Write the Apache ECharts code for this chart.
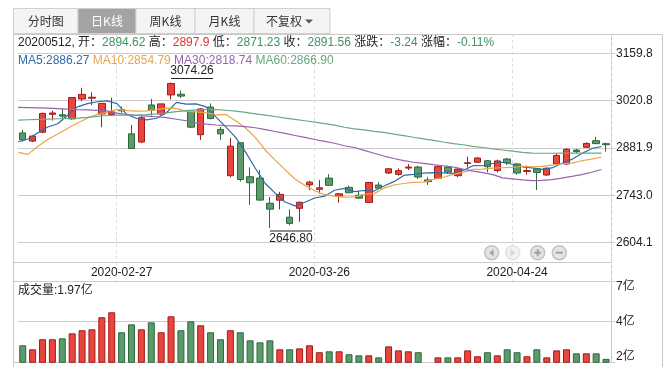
<!DOCTYPE html>
<html><head><meta charset="utf-8">
<script src="https://cdn.jsdelivr.net/npm/echarts@6/dist/echarts.min.js"></script>
<style>html,body{margin:0;padding:0;background:#fff}#c{width:672px;height:373px}</style>
</head><body><div id="c"></div>
<script>
// ---------------- data ----------------
const dates = ['2020-02-13','2020-02-14','2020-02-17','2020-02-18','2020-02-19','2020-02-20','2020-02-21','2020-02-24','2020-02-25','2020-02-26',
'2020-02-27','2020-02-28','2020-03-02','2020-03-03','2020-03-04','2020-03-05','2020-03-06','2020-03-09','2020-03-10','2020-03-11',
'2020-03-12','2020-03-13','2020-03-16','2020-03-17','2020-03-18','2020-03-19','2020-03-20','2020-03-23','2020-03-24','2020-03-25',
'2020-03-26','2020-03-27','2020-03-30','2020-03-31','2020-04-01','2020-04-02','2020-04-03','2020-04-07','2020-04-08','2020-04-09',
'2020-04-10','2020-04-13','2020-04-14','2020-04-15','2020-04-16','2020-04-17','2020-04-20','2020-04-21','2020-04-22','2020-04-23',
'2020-04-24','2020-04-27','2020-04-28','2020-04-29','2020-04-30','2020-05-06','2020-05-07','2020-05-08','2020-05-11','2020-05-12'];
const openP  = [2926.4,2902.4,2928.5,2981.0,2979.5,2967.5,3026.0,3028.5,2982.0,2980.0,
2995.0,2923.5,2899.5,3008.5,2982.0,3038.0,3040.0,2990.0,2921.0,3002.5,
2936.5,2800.5,2897.5,2797.5,2793.5,2719.5,2728.5,2678.5,2704.5,2773.5,
2760.5,2793.5,2740.0,2766.0,2743.0,2722.0,2773.0,2808.5,2804.5,2823.0,
2826.0,2788.0,2793.0,2826.0,2800.5,2836.5,2840.0,2844.5,2815.5,2849.5,
2835.0,2813.0,2820.5,2802.5,2835.0,2835.0,2876.0,2884.0,2903.5,2894.62];
const highP  = [2935.0,2919.5,2986.0,2991.5,2998.0,3032.0,3059.0,3045.5,3014.5,3029.5,
3004.0,2950.0,2977.5,3026.5,3012.0,3074.26,3051.0,2992.5,2999.5,3013.0,
2943.5,2911.5,2898.5,2825.0,2817.0,2738.0,2753.0,2701.5,2724.5,2785.5,
2787.5,2805.0,2749.5,2771.5,2756.0,2782.5,2781.5,2823.0,2822.0,2835.0,
2830.0,2796.0,2830.0,2830.0,2825.0,2856.5,2854.5,2846.5,2847.5,2852.5,
2838.0,2830.0,2822.5,2825.0,2864.5,2881.5,2879.0,2898.5,2915.0,2897.9];
const lowP   = [2900.5,2899.0,2925.5,2962.5,2962.5,2965.5,3019.5,3008.5,2943.0,2977.0,
2986.0,2879.0,2896.5,2977.5,2978.5,3025.0,3029.0,2940.5,2906.0,2966.0,
2906.0,2795.5,2783.5,2714.5,2726.0,2646.80,2701.5,2655.0,2665.0,2758.0,
2748.0,2771.0,2721.5,2749.0,2733.0,2720.0,2762.0,2805.5,2800.5,2817.5,
2791.0,2773.5,2791.0,2805.5,2796.0,2825.0,2838.0,2810.5,2810.5,2832.0,
2803.5,2803.5,2758.5,2800.5,2833.0,2832.0,2866.0,2882.0,2893.5,2871.23];
const closeP = [2906.07,2917.01,2983.62,2984.97,2975.40,3030.15,3039.67,3031.23,3013.05,2987.93,
2991.33,2880.30,2970.93,2992.90,3011.67,3071.68,3034.51,2943.29,2996.76,2968.52,
2923.49,2887.43,2789.25,2779.64,2728.76,2702.13,2745.62,2660.17,2722.44,2781.59,
2764.91,2772.20,2747.21,2750.30,2734.52,2780.64,2763.99,2820.76,2815.37,2825.90,
2796.63,2783.05,2827.28,2811.17,2819.94,2838.49,2852.55,2827.01,2843.98,2838.50,
2808.53,2815.49,2810.02,2822.44,2860.08,2878.14,2871.52,2895.34,2894.80,2891.56];
// volume in 亿
const volume = [2.85,2.59,3.24,3.24,3.30,3.62,3.82,3.88,4.66,4.98,
3.69,4.20,3.88,4.33,3.69,4.72,3.82,4.40,4.14,3.69,
3.24,3.82,3.69,3.17,3.04,3.17,2.59,2.59,2.65,2.85,
2.40,2.46,2.46,2.27,2.20,2.20,2.07,2.78,2.52,2.46,
2.40,1.76,2.07,2.07,2.07,2.52,2.14,2.40,2.20,2.59,
2.40,2.14,2.59,2.07,2.52,2.59,2.33,2.33,2.33,1.97];
const ma5 = [2900.22,2908.43,2927.05,2943.71,2953.41,2978.23,3002.76,3012.28,3017.90,3020.41,
3012.64,2980.77,2968.71,2964.68,2969.43,2985.50,3016.34,3010.81,3011.58,3002.95,
2973.31,2943.90,2913.09,2869.67,2821.71,2777.44,2749.08,2723.26,2711.82,2722.39,
2734.95,2740.26,2757.67,2763.24,2753.83,2756.97,2755.33,2770.04,2783.06,2801.33,
2804.53,2808.34,2809.65,2808.81,2807.61,2815.99,2829.89,2829.83,2836.39,2840.11,
2834.11,2826.70,2823.30,2818.99,2823.31,2837.23,2848.44,2865.50,2879.98,2886.27];
const ma10 = [2869.21,2863.26,2886.96,2907.13,2922.86,2939.22,2955.60,2969.67,2980.81,2986.91,
2995.44,2991.77,2990.50,2991.29,2994.92,2999.07,2998.55,2989.76,2988.13,2986.19,
2979.41,2980.12,2961.95,2940.62,2912.33,2875.38,2846.49,2818.18,2790.75,2772.05,
2756.19,2744.67,2740.47,2737.53,2738.11,2745.96,2747.80,2763.86,2773.15,2777.58,
2780.75,2781.84,2789.84,2795.93,2804.47,2810.26,2819.11,2819.74,2822.60,2823.86,
2825.05,2828.29,2826.57,2827.70,2831.71,2835.67,2837.57,2844.40,2849.49,2854.79];
const ma30 = [3001.2,3000.5,2999.8,2999.1,2997.7,2996.3,2994.8,2993.8,2992.7,2991.3,
2984.7,2980.2,2977.5,2975.7,2973.8,2971.0,2966.5,2962.0,2956.0,2952.0,
2949.5,2948.0,2947.0,2945.0,2941.5,2936.0,2930.5,2924.7,2918.8,2913.0,
2907.0,2901.5,2896.0,2888.5,2883.5,2875.0,2866.5,2858.3,2851.0,2844.7,
2840.0,2836.5,2833.0,2829.7,2826.0,2820.0,2814.2,2809.3,2803.5,2794.0,
2791.0,2788.0,2786.3,2787.0,2788.7,2793.4,2798.5,2803.8,2810.7,2818.74];
const ma60 = [2964.0,2965.0,2966.0,2967.0,2968.0,2969.0,2970.0,2972.0,2975.0,2977.5,
2978.7,2978.8,2979.2,2979.8,2982.5,2985.5,2989.0,2992.0,2994.0,2994.5,
2994.5,2993.0,2990.5,2986.5,2982.5,2978.5,2974.5,2970.0,2966.0,2962.0,
2958.0,2953.5,2949.0,2943.0,2938.0,2935.0,2931.0,2928.0,2923.0,2918.5,
2913.5,2909.0,2904.5,2899.5,2895.0,2891.5,2887.0,2883.5,2879.5,2876.0,
2872.5,2869.0,2867.0,2866.5,2866.5,2866.8,2867.0,2867.0,2867.0,2866.90];
const xTickLabels = ['2020-02-27','2020-03-26','2020-04-24'];
const priceTicks = [2604.1, 3159.8];   // axis min / max labels
const volTicks = [1.75, 7.0];          // volume axis min / max (亿)
const tabNames = ['分时图','日K线','周K线','月K线','不复权'];

// ---------------- styles ----------------
const FONT = '"Liberation Sans", "Noto Sans CJK SC", sans-serif';
const UP = '#e8453c', UPB = '#a31b1b', DN = '#5a9a6b', DNB = '#2c6a3b';
const GREENT = '#3f9160', REDT = '#e2302f';
const C5 = '#2f6ba6', C10 = '#eba54a', C30 = '#9763af', C60 = '#68a982';
const GRID = '#cccccc';

const n = dates.length, L = n - 1;
const prev = closeP[L-1];
const chg = closeP[L] - prev;
const pct = chg / prev * 100;
const col = v => (v >= prev ? 'r' : 'g');
const dstr = dates[L].replace(/-/g, '');
const infoText = `{k|${dstr}, 开：}{${col(openP[L])}|${openP[L].toFixed(2)}} {k|高：}{${col(highP[L])}|${highP[L]}} {k|低：}{${col(lowP[L])}|${lowP[L].toFixed(2)}} {k|收：}{${col(closeP[L])}|${closeP[L].toFixed(2)}} {k|涨跌：}{${chg>=0?'r':'g'}|${chg.toFixed(2)}} {k|涨幅：}{${chg>=0?'r':'g'}|${pct.toFixed(2)}%}`;
const maText = `{a|MA5:${ma5[L].toFixed(2)}} {b|MA10:${ma10[L].toFixed(2)}} {c|MA30:${ma30[L].toFixed(2)}} {d|MA60:${ma60[L].toFixed(2)}}`;

let hiIdx = 0, loIdx = 0;
for (let i = 0; i < n; i++) { if (highP[i] > highP[hiIdx]) hiIdx = i; if (lowP[i] < lowP[loIdx]) loIdx = i; }

const kData = dates.map((d, i) => [openP[i], closeP[i], lowP[i], highP[i]]);
const vData = volume.map((v, i) => ({
  value: v,
  itemStyle: closeP[i] >= openP[i] ? {color: UP, borderColor: UPB} : {color: DN, borderColor: DNB}
}));

// ---------------- layout ----------------
const GL = 17.8, GR = 61, SHIFT = 4.6;
const mainTop = 53.5, mainH = 189;

// graphic chrome
const graphic = [];
const tabX = [13.5, 78, 136, 195, 254, 330];
tabNames.forEach((t, i) => {
  const sel = i === 1;
  graphic.push({type:'rect', shape:{x:tabX[i], y:8.5, width:tabX[i+1]-tabX[i], height:25},
    style:{fill: sel ? '#a3a3a3' : '#f4f4f4', stroke:'#cfcfcf', lineWidth:1}, z:1});
  const cx = i === 4 ? 284 : (tabX[i] + tabX[i+1]) / 2;
  graphic.push({type:'text', x:cx, y:21.5, z:2,
    style:{text:t, fill: sel ? '#ffffff' : '#333333', font:'12px "Noto Sans CJK SC", sans-serif',
      align:'center', verticalAlign:'middle', textAlign:'center', textVerticalAlign:'middle'}});
});
graphic.push({type:'polygon', shape:{points:[[305,19.5],[313,19.5],[309,23.5]]}, style:{fill:'#555'}, z:2});

const ln = (x1,y1,x2,y2) => ({type:'line', shape:{x1,y1,x2,y2}, style:{stroke:'#c8c8c8', lineWidth:1}, z:0, silent:true});
graphic.push(ln(13.5,34.5,662.5,34.5));
graphic.push(ln(13.5,34.5,13.5,367));
graphic.push(ln(662.5,34.5,662.5,367));
graphic.push(ln(611.5,34.5,611.5,362.5));
graphic.push(ln(13.5,262.5,611.5,262.5));
graphic.push(ln(13.5,281.5,615.5,281.5));
graphic.push(ln(13.5,362.5,611.5,362.5));

// zoom buttons
const btnX = [491.7, 512.7, 537.7, 559.3], by = 252.7;
btnX.forEach((bx, i) => {
  const dis = i === 1;
  graphic.push({type:'circle', shape:{cx:bx, cy:by, r:7}, style:{fill: dis?'#f1f1f1':'#e4e4e4', stroke: dis?'#e2e2e2':'#c4c4c4', lineWidth:1.5}, z:3});
  const sc = dis ? '#d6d6d6' : '#a2a2a2';
  if (i === 0) graphic.push({type:'polygon', shape:{points:[[bx+2,by-3.5],[bx+2,by+3.5],[bx-2.5,by]]}, style:{fill:sc}, z:4});
  if (i === 1) graphic.push({type:'polygon', shape:{points:[[bx-2,by-3.5],[bx-2,by+3.5],[bx+2.5,by]]}, style:{fill:sc}, z:4});
  if (i >= 2) graphic.push({type:'line', shape:{x1:bx-3.5,y1:by,x2:bx+3.5,y2:by}, style:{stroke:sc, lineWidth:2}, z:4});
  if (i === 2) graphic.push({type:'line', shape:{x1:bx,y1:by-3.5,x2:bx,y2:by+3.5}, style:{stroke:sc, lineWidth:2}, z:4});
});

const chart = echarts.init(document.getElementById('c'), null, {renderer:'canvas'});
const labelFmt = v => (Math.floor(v * 10 + 1e-6) / 10).toFixed(1);

chart.setOption({
  animation: false,
  backgroundColor: '#fff',
  textStyle: {fontFamily: FONT},
  title: [
    {left: 18, top: 37, padding: 0, text: infoText,
      textStyle: {fontSize: 12, fontWeight: 'normal', fontFamily: FONT,
        rich: {k:{color:'#222', fontSize:12, fontFamily: FONT}, g:{color:GREENT, fontSize:12, fontFamily: FONT}, r:{color:REDT, fontSize:12, fontFamily: FONT}}}},
    {left: 18, top: 55, padding: 0, text: maText,
      textStyle: {fontSize: 12, fontWeight: 'normal', fontFamily: FONT,
        rich: {a:{color:C5, fontSize:12}, b:{color:C10, fontSize:12}, c:{color:C30, fontSize:12}, d:{color:C60, fontSize:12}}}},
    {left: 18, top: 285, padding: 0, text: `成交量:${volume[L].toFixed(2)}亿`,
      textStyle: {fontSize: 12, fontWeight: 'normal', color: '#222', fontFamily: FONT}}
  ],
  graphic: graphic,
  grid: [
    {left: GL, right: GR, top: mainTop, height: mainH},
    {left: GL - SHIFT, right: GR + SHIFT, top: mainTop, height: mainH},
    {left: GL, right: GR, top: 34, height: 247},
    {left: GL, right: GR, top: 281, height: 81.3}
  ],
  xAxis: [
    {type:'category', gridIndex:0, data:dates, boundaryGap:true, show:false},
    {type:'category', gridIndex:1, data:dates, boundaryGap:true, show:false},
    {type:'category', gridIndex:2, data:dates, boundaryGap:true,
      axisLine:{show:false}, axisTick:{show:false},
      axisLabel:{inside:true, margin:2, color:'#222', fontSize:12, fontFamily:FONT,
        interval:(idx, val) => xTickLabels.includes(val)},
      splitLine:{show:true, interval:(idx, val) => xTickLabels.includes(val),
        lineStyle:{color:'#dcdcdc', type:[3,3], width:1}}},
    {type:'category', gridIndex:3, data:dates, boundaryGap:true,
      axisLine:{show:false}, axisTick:{show:false}, axisLabel:{show:false}, splitLine:{show:false}}
  ],
  yAxis: [
    {type:'value', gridIndex:0, position:'right', min:priceTicks[0], max:priceTicks[1],
      interval:(priceTicks[1]-priceTicks[0])/4, scale:true,
      axisLine:{show:false}, axisTick:{show:true, length:4, lineStyle:{color:GRID}},
      axisLabel:{margin:5, color:'#222', fontSize:12, fontFamily:FONT, formatter:labelFmt},
      splitLine:{show:true, lineStyle:{color:GRID, width:1}}},
    {type:'value', gridIndex:1, min:priceTicks[0], max:priceTicks[1], scale:true, show:false},
    {type:'value', gridIndex:2, show:false},
    {type:'value', gridIndex:3, position:'right', min:volTicks[0], max:volTicks[1],
      interval:(volTicks[1]-volTicks[0])/2, scale:true,
      axisLine:{show:false}, axisTick:{show:true, length:4, lineStyle:{color:GRID}},
      axisLabel:{margin:5, color:'#222', fontSize:12, fontFamily:FONT,
        verticalAlignMinLabel:'bottom', verticalAlignMaxLabel:'top',
        formatter: v => Math.round(v) + '亿'},
      splitLine:{show:true, lineStyle:{color:GRID, width:1}}}
  ],
  series: [
    {type:'candlestick', name:'K', xAxisIndex:0, yAxisIndex:0, data:kData, barWidth:7,
      itemStyle:{color:UP, color0:DN, borderColor:UPB, borderColor0:DNB, borderWidth:1},
      markPoint:{
        symbol:'rect', symbolSize:[42,1], silent:true, animation:false,
        itemStyle:{color:'#222'},
        label:{color:'#222', fontSize:12, fontFamily:FONT},
        data:[
          {coord:[dates[hiIdx], highP[hiIdx]], symbolOffset:[21,-4],
            label:{show:true, position:'top', distance:1, formatter: highP[hiIdx].toFixed(2)}},
          {coord:[dates[loIdx], lowP[loIdx]], symbolOffset:[21,3],
            label:{show:true, position:'bottom', distance:1, formatter: lowP[loIdx].toFixed(2)}}
        ]}},
    {type:'line', name:'MA5', xAxisIndex:1, yAxisIndex:1, data:ma5, symbol:'none', lineStyle:{color:C5, width:1.2}, z:5},
    {type:'line', name:'MA10', xAxisIndex:1, yAxisIndex:1, data:ma10, symbol:'none', lineStyle:{color:C10, width:1.2}, z:5},
    {type:'line', name:'MA30', xAxisIndex:1, yAxisIndex:1, data:ma30, symbol:'none', lineStyle:{color:C30, width:1.2}, z:5},
    {type:'line', name:'MA60', xAxisIndex:1, yAxisIndex:1, data:ma60, symbol:'none', lineStyle:{color:C60, width:1.2}, z:5},
    {type:'bar', name:'VOL', xAxisIndex:3, yAxisIndex:3, data:vData, barWidth:7,
      itemStyle:{borderWidth:1}}
  ]
});
</script>
</body></html>
